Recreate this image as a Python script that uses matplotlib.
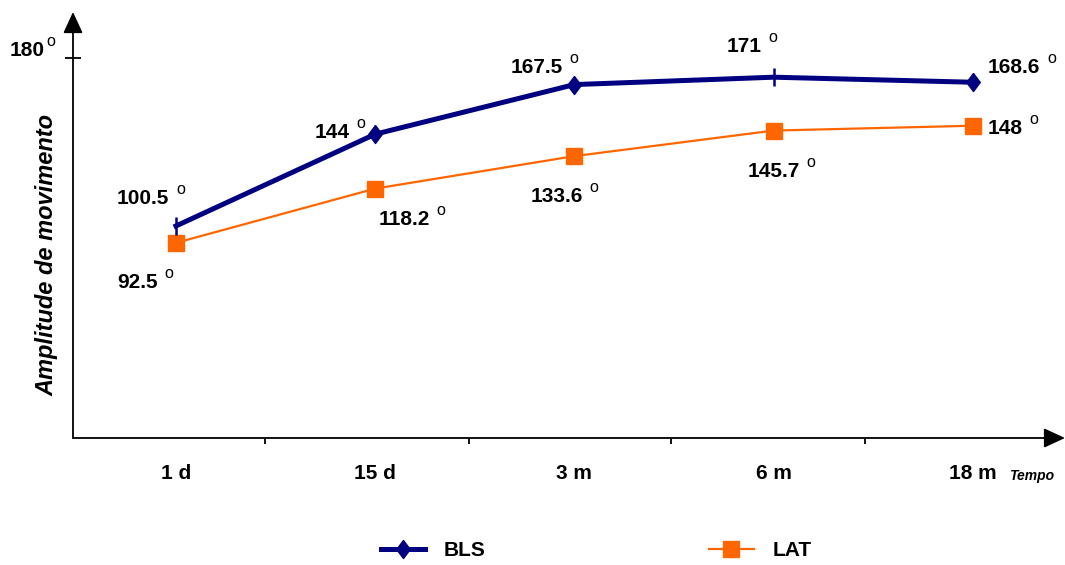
import matplotlib
matplotlib.use("Agg")
import matplotlib.pyplot as plt
from matplotlib.lines import Line2D

plt.rcParams['font.family'] = ['Liberation Sans', 'DejaVu Sans']
plt.rcParams['font.weight'] = 'bold'

# Data
categories = ["1 d", "15 d", "3 m", "6 m", "18 m"]
bls = [100.5, 144, 167.5, 171, 168.6]
lat = [92.5, 118.2, 133.6, 145.7, 148]
bls_labels = ["100.5", "144", "167.5", "171", "168.6"]
lat_labels = ["92.5", "118.2", "133.6", "145.7", "148"]

NAVY = "#000080"
ORANGE = "#FF6600"

fig = plt.figure(figsize=(10.65, 5.65), dpi=100)
ax = fig.add_axes([73 / 1065, 127 / 565, 992 / 1065, 426 / 565])
x = list(range(len(categories)))
ax.set_xlim(-0.517, 4.463)
ax.set_ylim(0, 201.9)

for s in ax.spines.values():
    s.set_visible(False)

# Axes drawn as arrows
arrow = dict(arrowstyle='-|>,head_length=0.65,head_width=0.3', lw=1.3,
             color='black', shrinkA=0, shrinkB=0, mutation_scale=20)
ax.annotate('', xy=(0, 1), xytext=(0, 0), xycoords='axes fraction',
            textcoords='axes fraction', arrowprops=arrow, annotation_clip=False)
ax.annotate('', xy=(1, 0), xytext=(0, 0), xycoords='axes fraction',
            textcoords='axes fraction', arrowprops=arrow, annotation_clip=False)

# Series
ax.plot(x, bls, color=NAVY, lw=3.6, solid_joinstyle='round', zorder=3)
diamond = [(0, 1), (0.75, 0), (0, -1), (-0.75, 0), (0, 1)]
di = [1, 2, 4]
ti = [0, 3]
ax.plot([x[i] for i in di], [bls[i] for i in di], ls='none', marker=diamond,
        ms=13, color=NAVY, zorder=4)
ax.plot([x[i] for i in ti], [bls[i] for i in ti], ls='none', marker='|',
        ms=13, mew=1.8, color=NAVY, zorder=4)
ax.plot(x, lat, color=ORANGE, lw=1.6, marker='s', ms=12, mec=ORANGE,
        mfc=ORANGE, zorder=3)


def degree(after, gap=7, rise=14):
    """Small raised 'o' written just after a text artist."""
    ax.annotate("o", xy=(1, 0), xycoords=after, xytext=(gap, rise),
                textcoords='offset pixels', ha='left', va='baseline',
                fontsize=11.5, fontweight='normal', annotation_clip=False)


# Value labels
bls_off = [(-59, 21.5), (-61, -3.5), (-64, 11.5), (-47, 25.5), (15, 9.5)]
lat_off = [(-59, -45.5), (3, -36.5), (-44, -45.5), (-26, -46.5), (15, -8.5)]
for i in x:
    t = ax.annotate(bls_labels[i], xy=(x[i], bls[i]), xytext=bls_off[i],
                    textcoords='offset pixels', ha='left', va='baseline',
                    fontsize=15, fontweight='bold', annotation_clip=False)
    degree(t)
    t = ax.annotate(lat_labels[i], xy=(x[i], lat[i]), xytext=lat_off[i],
                    textcoords='offset pixels', ha='left', va='baseline',
                    fontsize=15, fontweight='bold', annotation_clip=False)
    degree(t)

# Ticks
ax.set_xticks(x)
ax.set_xticklabels(categories, fontsize=15, fontweight='bold')
ax.tick_params(axis='x', which='major', length=0, pad=19)
ax.set_xticks([0.447, 1.471, 2.485, 3.459], minor=True)
ax.tick_params(axis='x', which='minor', length=4.5, width=1.3, direction='out')
ax.set_yticks([180])
ax.set_yticklabels([""])
ax.tick_params(axis='y', length=11, width=1.3, direction='inout')
t = ax.annotate("180", xy=(0, 180), xycoords=('axes fraction', 'data'),
                xytext=(-63, 2), textcoords='offset pixels', ha='left', va='baseline',
                fontsize=15, fontweight='bold', annotation_clip=False)
degree(t, gap=1, rise=14.5)

fig.text(1009 / 1065, 1 - 476 / 565, "Tempo", fontsize=10, fontweight='bold',
         fontstyle='italic', ha='left', va='center')
fig.text(47 / 1065, 1 - 255 / 565, "Amplitude de movimento", fontsize=17,
         fontweight='bold', fontstyle='italic', rotation=90, ha='center', va='center')

# Legend
handles = [
    Line2D([], [], color=NAVY, lw=3.6, marker=diamond, ms=13),
    Line2D([], [], color=ORANGE, lw=1.6, marker='s', ms=11),
]
fig.legend(handles, ["BLS", "LAT"], loc='center', ncol=2, frameon=False,
           bbox_to_anchor=(596 / 1065, 1 - 551 / 565), prop=dict(size=15, weight='bold'),
           handlelength=2.15, handletextpad=0.9, columnspacing=10.7)

fig.savefig("out.png", dpi=100)
